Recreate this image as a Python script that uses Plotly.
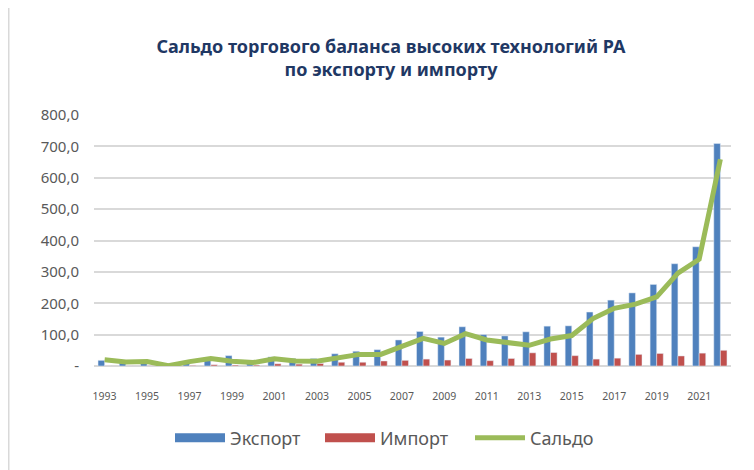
import plotly.graph_objects as go

years = [str(y) for y in range(1993, 2023)]
export = [18, 10, 12, 3, 14, 25, 33, 12, 29, 24, 24, 39, 47, 52, 83,
          110, 92, 125, 100, 96, 109, 127, 128, 172, 210, 233, 260, 326, 380, 709]
imports = [0.5, 0.5, 1, 2, 2, 4, 3, 3, 7, 6, 8, 12, 12, 16, 18,
           22, 19, 24, 17, 24, 42, 43, 33, 22, 25, 37, 40, 32, 41, 50]
saldo = [20, 13, 14, 1, 14, 24, 15, 11, 23, 16, 15, 27, 37, 37, 64,
         88, 72, 103, 83, 74, 66, 86, 97, 151, 184, 197, 220, 296, 340, 659]

y_tickvals = [0, 100, 200, 300, 400, 500, 600, 700, 800]
y_ticktext = ["-", "100,0", "200,0", "300,0", "400,0", "500,0", "600,0", "700,0", "800,0"]
x_tickvals = [str(y) for y in range(1993, 2023, 2)]

title_text = "Сальдо торгового баланса высоких технологий РА<br>по экспорту и импорту"

C_EXP, C_IMP, C_SAL = "#4F81BD", "#C0504D", "#9BBB59"

# page body has an 8px margin: figure is sized/offset to compensate
W, H = 746, 462
fig = go.Figure()
fig.add_trace(go.Bar(x=years, y=export, name="Экспорт", marker_color=C_EXP,
                     showlegend=False))
fig.add_trace(go.Bar(x=years, y=imports, name="Импорт", marker_color=C_IMP,
                     showlegend=False))
fig.add_trace(go.Scatter(x=years, y=saldo, name="Сальдо", mode="lines",
                         line=dict(color=C_SAL, width=5), showlegend=False))
# legend entries styled like the reference (wide rectangles for bars)
fig.add_trace(go.Scatter(x=[None], y=[None], name="Экспорт", mode="lines",
                         line=dict(color=C_EXP, width=9)))
fig.add_trace(go.Scatter(x=[None], y=[None], name="Импорт", mode="lines",
                         line=dict(color=C_IMP, width=9)))
fig.add_trace(go.Scatter(x=[None], y=[None], name="Сальдо", mode="lines",
                         line=dict(color=C_SAL, width=5)))

fig.update_layout(
    width=W, height=H,
    margin=dict(l=86, r=23, t=107, b=104, autoexpand=False),
    paper_bgcolor="white", plot_bgcolor="white",
    barmode="group", bargap=0.38, bargroupgap=0,
    title=dict(text=title_text, x=383 / W, xanchor="center",
               yref="container", y=1 - 44.5 / H, yanchor="middle",
               font=dict(family="Noto Sans", size=18, color="#1F3864", weight="bold")),
    xaxis=dict(type="category", tickvals=x_tickvals, ticktext=x_tickvals,
               tickfont=dict(family="Noto Sans", size=10.5, color="#595959"),
               showline=False, showgrid=False, ticks="", ticklen=0,
               ticklabelstandoff=22, automargin=False),
    yaxis=dict(range=[0, 800], tickvals=y_tickvals, ticktext=y_ticktext,
               tickfont=dict(family="Noto Sans", size=15, color="#595959"),
               showgrid=True, gridcolor="#D9D9D9", gridwidth=1.5,
               zeroline=True, zerolinecolor="#D9D9D9", zerolinewidth=1.5,
               ticks="", ticklabelstandoff=14, automargin=False),
    legend=dict(orientation="h", xref="container", x=(174 - 8 - 4) / W, xanchor="left",
                yref="container", y=1 - 430 / H, yanchor="middle",
                font=dict(family="Noto Sans", size=18, color="#595959"),
                itemwidth=50, entrywidth=85, traceorder="normal"),
    shapes=[dict(type="line", xref="paper", yref="paper",
                 x0=(0.75 - 86) / 637, x1=(0.75 - 86) / 637, y0=-0.5, y1=1.5,
                 line=dict(color="#D9D9D9", width=1.5))],
)

fig.write_html("out.html")
